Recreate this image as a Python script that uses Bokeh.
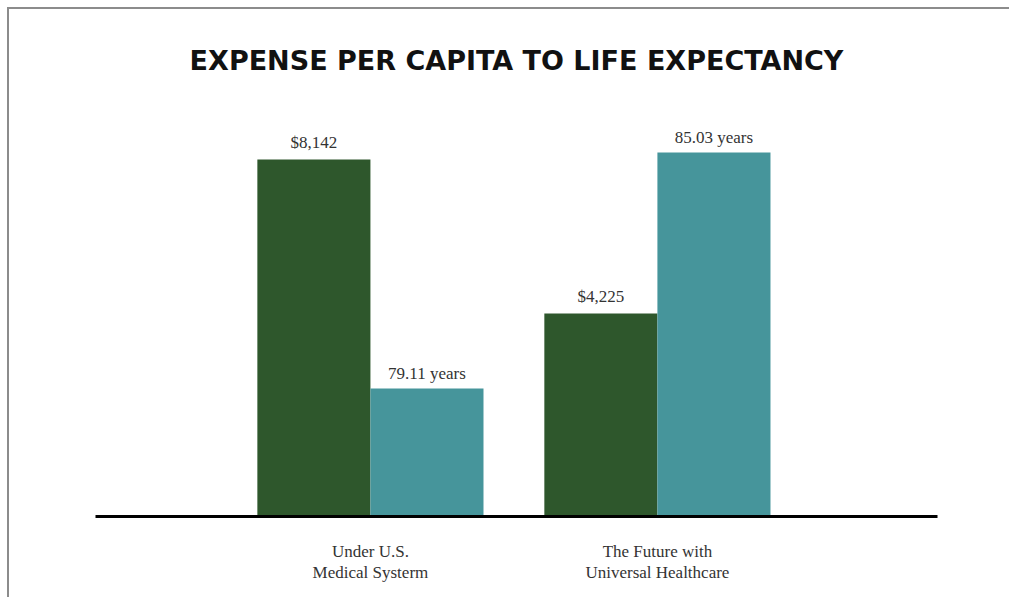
from bokeh.plotting import figure
from bokeh.models import Range1d, ColumnDataSource
from bokeh.core.properties import value
from bokeh.embed import file_html
from bokeh.resources import INLINE

# ---- data ----
category_line1 = ["Under U.S.", "The Future with"]
category_line2 = ["Medical Systerm", "Universal Healthcare"]
expense = [8142, 4225]
life_expectancy = [79.11, 85.03]
title_text = "EXPENSE PER CAPITA TO LIFE EXPECTANCY"

GREEN = "#2E572C"
TEAL = "#46959B"
LABEL_FONT = "Liberation Serif"

# ---- layout (canvas pixels) ----
W, H = 1002, 590
AX_L, AX_R = 86, 928          # baseline extent
BASE_Y = 507                  # baseline (from top)
x_lo, x_hi = 0.042, 2.976     # data values at AX_L / AX_R
sx = (x_hi - x_lo) / (AX_R - AX_L)

dollar_base, dollar_per_px = -938, 25.43
years_base, years_per_px = 75.90, 1 / 39.86

p = figure(width=W, height=H, output_backend="svg", toolbar_location=None,
           x_range=Range1d(x_lo - AX_L * sx, x_lo + (W - AX_L) * sx),
           y_range=Range1d(dollar_base - (H - BASE_Y) * dollar_per_px,
                           dollar_base + BASE_Y * dollar_per_px),
           min_border=0, x_axis_location=None, y_axis_location=None)
p.extra_y_ranges = {"years": Range1d(years_base - (H - BASE_Y) * years_per_px,
                                     years_base + BASE_Y * years_per_px)}
p.margin = (7, 0, 0, 7)
p.styles = {"border-top": "2px solid #8c8c8c", "border-left": "2px solid #8c8c8c"}
p.outline_line_color = None
p.grid.visible = False
p.background_fill_color = "white"
p.border_fill_color = "white"

xs = [i + 1 for i in range(len(expense))]
bw = 0.394
src_e = ColumnDataSource(dict(x=[x - bw / 2 for x in xs], top=expense,
                              lab=[f"${v:,}" for v in expense]))
src_l = ColumnDataSource(dict(x=[x + bw / 2 for x in xs], top=life_expectancy,
                              lab=[f"{v:.2f} years" for v in life_expectancy]))
src_c = ColumnDataSource(dict(x=xs, l1=category_line1, l2=category_line2,
                              y=[dollar_base] * len(xs)))

p.vbar(x="x", top="top", bottom=dollar_base, width=bw, source=src_e,
       fill_color=GREEN, line_color=None)
p.vbar(x="x", top="top", bottom=years_base, width=bw, source=src_l,
       fill_color=TEAL, line_color=None, y_range_name="years")

# baseline
p.segment(x0=[x_lo], y0=[dollar_base], x1=[x_hi], y1=[dollar_base],
          line_color="black", line_width=3)

txt = dict(text_align="center", text_font=value(LABEL_FONT),
           text_font_size="17px", text_color="#333333")
p.text(x="x", y="top", text="lab", source=src_e, text_baseline="alphabetic",
       y_offset=-17, **txt)
p.text(x="x", y="top", text="lab", source=src_l, text_baseline="alphabetic",
       y_offset=-15, y_range_name="years", **txt)
p.text(x="x", y="y", text="l1", source=src_c, text_baseline="middle",
       y_offset=35, **txt)
p.text(x="x", y="y", text="l2", source=src_c, text_baseline="middle",
       y_offset=56, **txt)

# title
title_y = dollar_base + (BASE_Y - 51) * dollar_per_px
p.text(x=[(x_lo + x_hi) / 2], y=[title_y], text=[title_text],
       text_align="center", text_baseline="middle",
       text_font=value("DejaVu Sans"), text_font_style="bold",
       text_font_size="27px", text_color="#111111")

open("out.html", "w").write(file_html(p, INLINE))
